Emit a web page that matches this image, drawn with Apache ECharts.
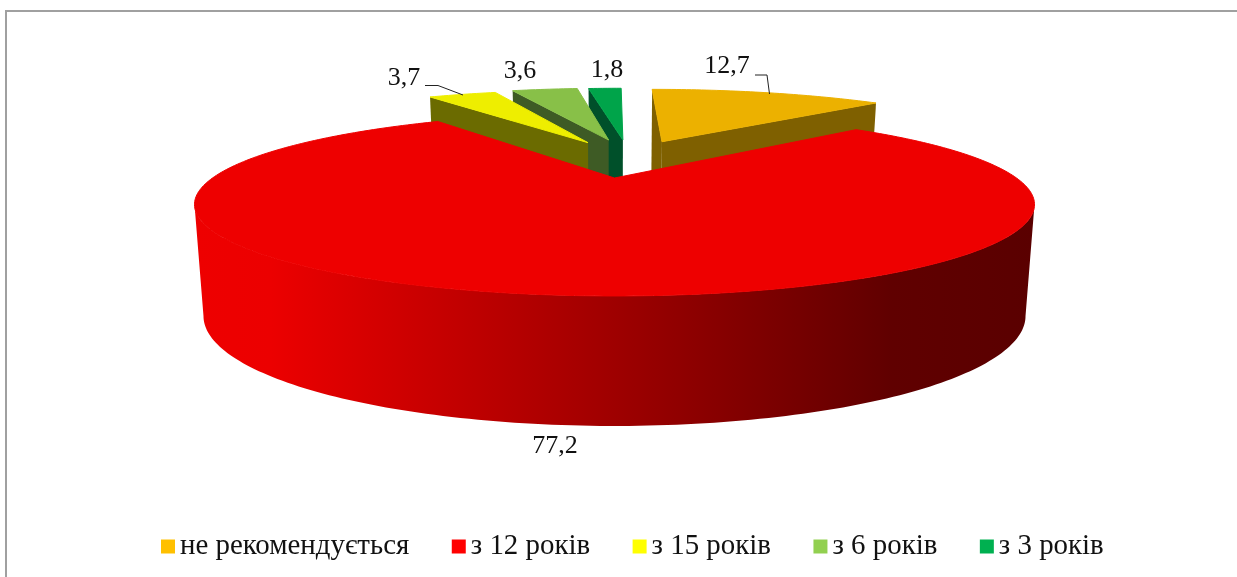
<!DOCTYPE html>
<html>
<head>
<meta charset="utf-8">
<style>html,body{margin:0;padding:0;background:#fff}#main{width:1237px;height:577px}</style>
<script src="https://cdn.jsdelivr.net/npm/echarts@6/dist/echarts.min.js"></script>
</head>
<body>
<div id="main"></div>
<script>
var categories = ['не рекомендується', 'з 12 років', 'з 15 років', 'з 6 років', 'з 3 років'];
var values = [12.7, 77.2, 3.7, 3.6, 1.8];

var legendColors = ['#ffc000', '#ff0000', '#ffff00', '#92d050', '#00b050'];
var topColors = ['#ecb100', '#ee0000', '#eeee00', '#88c048', '#00a44a'];
var wallColors = ['#7f6000', '#8a0000', '#6b6b00', '#3e5b25', '#00502a'];

// perspective of the disc: upper and lower plane
var cx = 614.5, k = 0.2896;
var topPlane = { A: 402, B: 83.8, y0: 178 };
var lowPlane = { A: 393.4, B: 100.7, y0: 284.2 };

// the rim is only seen between these two angles
var rimFrom = 106.8, rimTo = 253.2;

// how far each slice is pulled out, in radii of the disc
var explode = [[0.135, 0.495], [0, 0], [-0.075, 0.48], [-0.0167, 0.522], [0.024, 0.522]];
var radius = [1.03, 1, 1.03, 1.03, 1.03];
var zOrder = [1, 5, 4, 3, 2];

var labelPos = [[727, 66], [555, 446], [404, 78], [520, 71], [607, 70]];
var leaders = [[[755, 75], [767, 75], [769.5, 94]], null, [[425, 85.5], [438, 85.5], [463, 95]], null, null];

var total = values.reduce(function (a, b) { return a + b; }, 0);

function project(u, v, plane) {
  var s = 1 / (1 + k * v);
  return [cx + plane.A * u * s, plane.y0 - plane.B * v * s];
}

function slicePoint(i, deg, r, plane) {
  var a = deg * Math.PI / 180;
  return project(explode[i][0] + r * Math.sin(a), explode[i][1] + r * Math.cos(a), plane);
}

function arc(i, from, to, plane) {
  var pts = [];
  var n = Math.max(2, Math.ceil(to - from));
  for (var j = 0; j <= n; j++) {
    pts.push(slicePoint(i, from + (to - from) * j / n, radius[i], plane));
  }
  return pts;
}

function polygon(points, fill) {
  return { type: 'polygon', shape: { points: points }, style: { fill: fill, stroke: null } };
}

function makeRender(i) {
  return function (params, api) {
    var start = 0;
    for (var p = 0; p < i; p++) start += values[p] / total * 360;
    var end = start + api.value(0) / total * 360;

    var apexTop = slicePoint(i, 0, 0, topPlane);
    var apexLow = slicePoint(i, 0, 0, lowPlane);
    var topArc = arc(i, start, end, topPlane);
    var children = [];

    // side walls, only the ones that face the viewer
    if (end < 180) {
      children.push(polygon([apexTop, slicePoint(i, end, radius[i], topPlane), slicePoint(i, end, radius[i], lowPlane), apexLow], wallColors[i]));
    }
    if (start > 180 || start === 0) {
      children.push(polygon([apexTop, slicePoint(i, start, radius[i], topPlane), slicePoint(i, start, radius[i], lowPlane), apexLow], wallColors[i]));
    }

    // rim
    var from = Math.max(start, rimFrom), to = Math.min(end, rimTo);
    if (to > from) {
      children.push(polygon(arc(i, from, to, topPlane).concat(arc(i, from, to, lowPlane).reverse()),
        new echarts.graphic.LinearGradient(0, 0, 1, 0, [
          { offset: 0, color: '#ee0000' },
          { offset: 0.09, color: '#ec0000' },
          { offset: 0.83, color: '#600000' },
          { offset: 1, color: '#5a0000' }
        ])));
    }

    // stroke closes the seam between top face and rim
    var top = polygon([apexTop].concat(topArc), topColors[i]);
    top.style.stroke = topColors[i];
    top.style.lineWidth = 1;
    top.style.lineJoin = 'round';
    children.push(top);

    children.push({
      type: 'text',
      style: {
        x: labelPos[i][0], y: labelPos[i][1],
        text: String(api.value(0)).replace('.', ','),
        font: '26px "Liberation Serif"',
        fill: '#111', align: 'center', verticalAlign: 'middle'
      }
    });
    if (leaders[i]) {
      children.push({
        type: 'polyline',
        shape: { points: leaders[i] },
        style: { stroke: '#222', lineWidth: 1, fill: null }
      });
    }
    return { type: 'group', children: children };
  };
}

var series = categories.map(function (name, i) {
  return {
    name: name,
    type: 'custom',
    coordinateSystem: 'none',
    z: zOrder[i],
    silent: true,
    clip: false,
    itemStyle: { color: legendColors[i] },
    data: [[values[i]]],
    renderItem: makeRender(i)
  };
});

var chart = echarts.init(document.getElementById('main'), null, { renderer: 'canvas' });
chart.setOption({
  animation: false,
  backgroundColor: '#fff',
  graphic: [{
    type: 'polyline',
    shape: { points: [[6, 577], [6, 11], [1237, 11]] },
    style: { stroke: '#a0a0a0', lineWidth: 2, fill: null }
  }],
  legend: {
    data: categories,
    left: 161,
    top: 532,
    padding: 0,
    icon: 'rect',
    itemWidth: 14,
    itemHeight: 14,
    itemGap: 42.5,
    selectedMode: false,
    textStyle: { fontFamily: 'Liberation Serif', fontSize: 28.9, color: '#111' }
  },
  series: series
});
</script>
</body>
</html>
